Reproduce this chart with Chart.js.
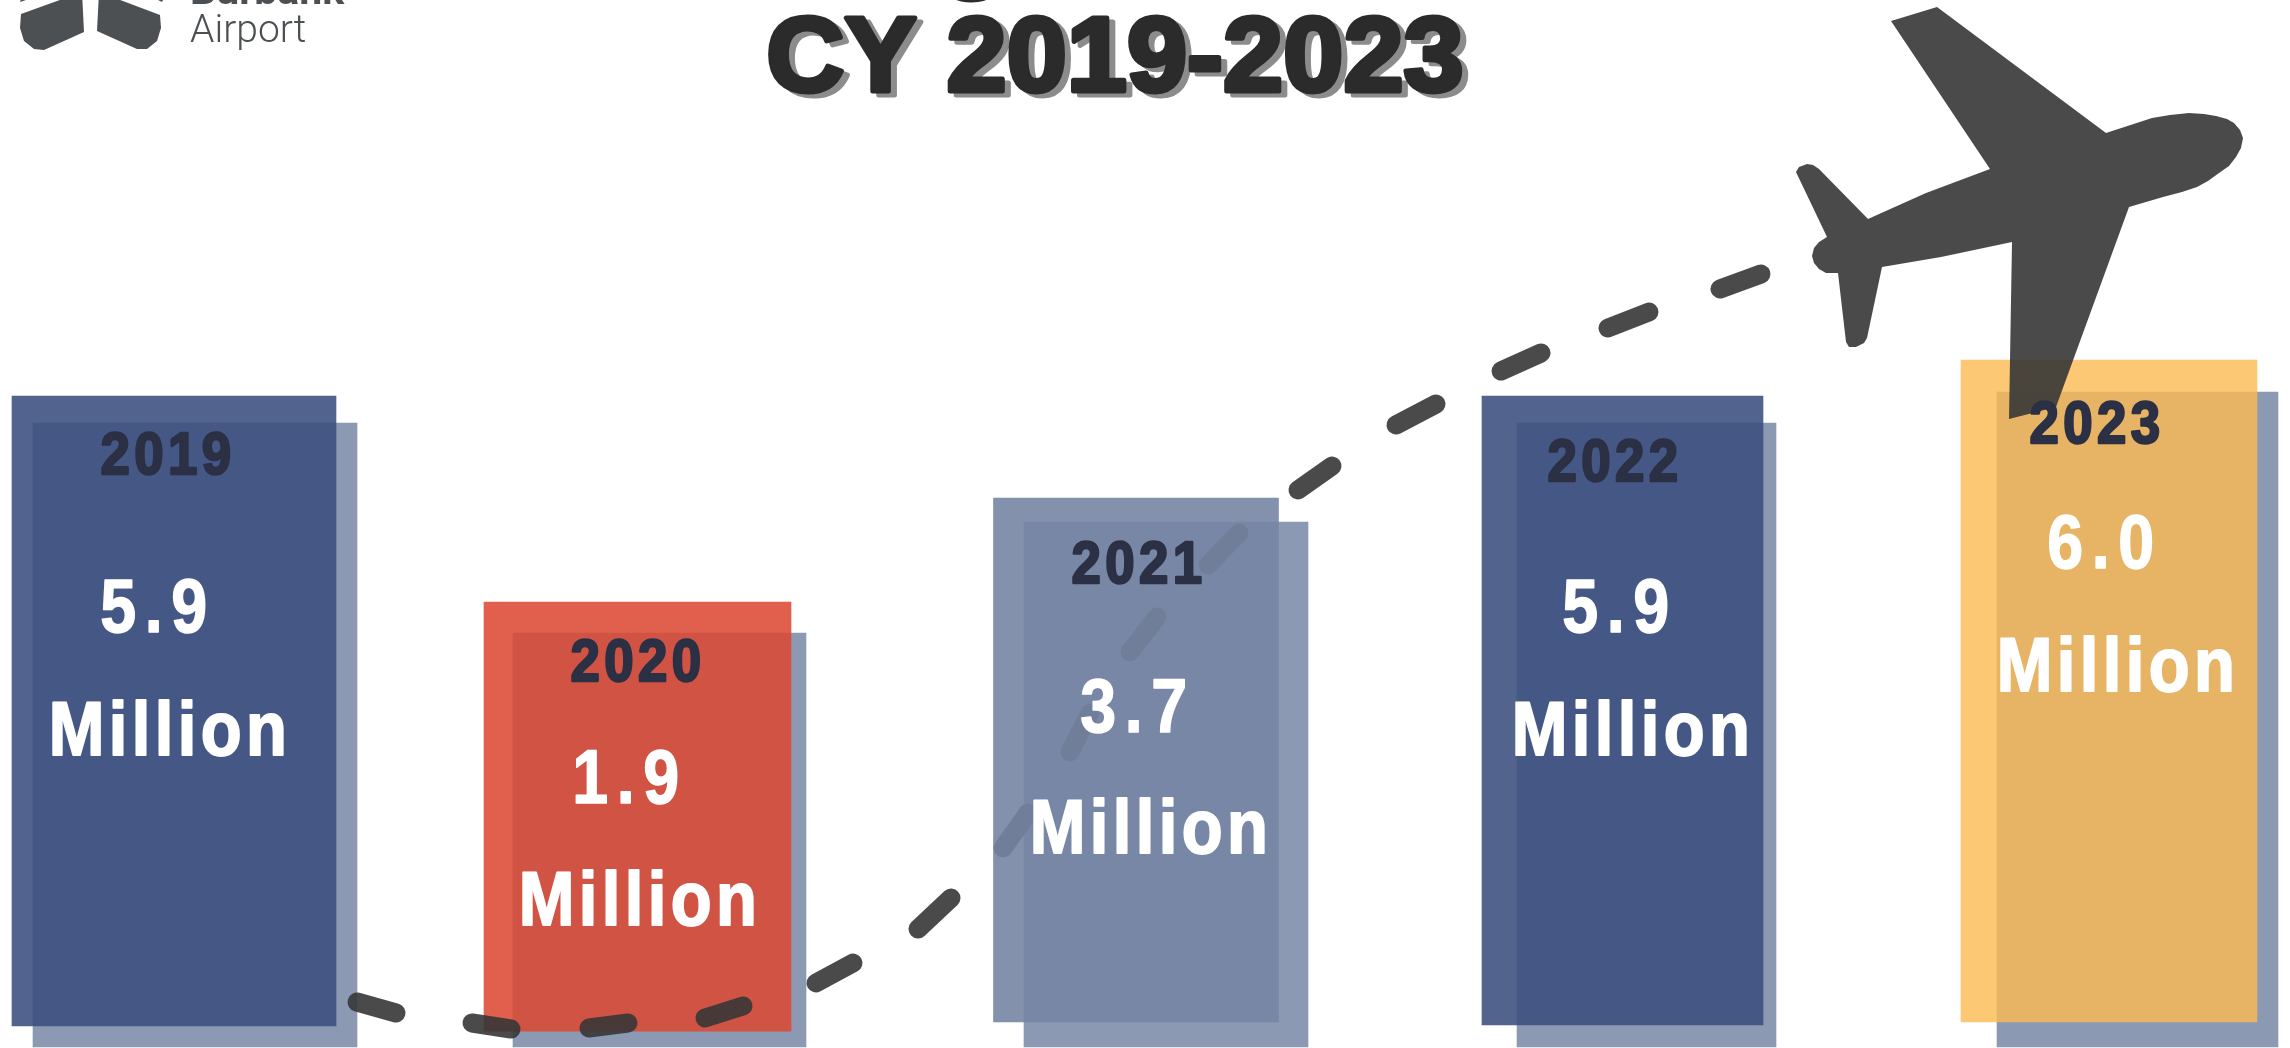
<!DOCTYPE html>
<html>
<head>
<meta charset="utf-8">
<title>Passenger Traffic CY 2019-2023</title>
<script src="https://cdn.jsdelivr.net/npm/chart.js@4/dist/chart.umd.js"></script>
<style>
  html, body { margin: 0; padding: 0; background: #fff; overflow: hidden; }
  canvas { display: block; }
</style>
</head>
<body>
<canvas id="chart" width="2290" height="1048"></canvas>
<script>
// Passengers per calendar year, in millions
const years = [2019, 2020, 2021, 2022, 2023];
const passengers = [5.9, 1.9, 3.7, 5.9, 6.0];
const valueLabels = ['5.9', '1.9', '3.7', '5.9', '6.0'];
const unitLabel = 'Million';

// Flight path, one pair of points per dash; null breaks the line
const pathX = [357, 396, 396, 472, 511, 511, 589, 628, 628, 705, 743, 743, 816, 853, 853, 918, 951, 951,
  1003, 1028, 1028, 1070, 1090, 1090, 1130, 1157, 1157, 1208, 1239, 1239, 1298, 1332, 1332,
  1396, 1436, 1436, 1501, 1541, 1541, 1608, 1649, 1649, 1720, 1761];
const pathY = [1002, 1013, null, 1023, 1029, null, 1028, 1023, null, 1018, 1006, null, 983, 963, null, 929, 898, null,
  848, 813, null, 752, 713, null, 652, 617, null, 565, 533, null, 490, 466, null,
  425, 404, null, 371, 353, null, 328, 312, null, 289, 274];

// Bar styling and layout
const frontColors = ['rgba(58,77,126,.88)', 'rgba(219,72,50,.87)', 'rgba(117,133,163,.9)', 'rgba(58,77,126,.88)', 'rgba(252,186,80,.8)'];
const frontOrder = [9, 9, 1, 9, 9];
const frontWidths = [324, 307, 285, 281, 296];
const backWidths = [324, 293, 284, 259, 281];
const frontFloors = [0.094, 0.072, 0.111, 0.098, 0.111];
const backColor = 'rgb(140,153,178)';

// The axes are not to scale: each one passes through these value/pixel anchors
const anchors = {
  xFront: { values: [2018, ...years, 2024], pixels: [0, 174, 637.5, 1136, 1622.5, 2109, 2290] },
  xBack:  { values: [2018, ...years, 2024], pixels: [0, 195, 659.5, 1166, 1646.5, 2137.5, 2290] },
  yFront: { values: [0, 1.9, 3.7, 5.9, 6.0, 7], pixels: [1048, 602, 498, 396, 360, 0] },
  yBack:  { values: [0, 1.9, 3.7, 5.9, 6.0, 7], pixels: [1047, 633, 522, 423, 392, 0] }
};

const yearText = [[168, 457], [638, 664], [1139, 566], [1615, 464], [2097, 426]];
const valueText = [[158, 611], [630, 782], [1138, 711], [1620, 611], [2105, 547]];
const unitText = [[170, 734], [640, 904], [1151, 832], [1633, 734], [2118, 670]];

const SANS = '"Liberation Sans", sans-serif';

// Linear scale bent through the anchor table of its axis
class AnchoredScale extends Chart.LinearScale {
  static id = 'anchored';
  static defaults = {};
  getPixelForValue(value) {
    const { values, pixels } = anchors[this.id];
    let i = 0;
    while (i < values.length - 2 && value > values[i + 1]) i++;
    const t = (value - values[i]) / (values[i + 1] - values[i]);
    return pixels[i] + t * (pixels[i + 1] - pixels[i]);
  }
  getValueForPixel(pixel) {
    const { values, pixels } = anchors[this.id];
    const rising = pixels[1] > pixels[0];
    let i = 0;
    while (i < values.length - 2 && (rising ? pixel > pixels[i + 1] : pixel < pixels[i + 1])) i++;
    const t = (pixel - pixels[i]) / (pixels[i + 1] - pixels[i]);
    return values[i] + t * (values[i + 1] - values[i]);
  }
}
Chart.register(AnchoredScale);

function outline(ctx, points) {
  ctx.beginPath();
  points.forEach(([x, y], i) => (i ? ctx.lineTo(x, y) : ctx.moveTo(x, y)));
  ctx.closePath();
}

function putText(ctx, text, x, y, font, color, opts = {}) {
  ctx.save();
  ctx.translate(x, y);
  ctx.scale(opts.stretch || 1, 1);
  ctx.font = font;
  ctx.letterSpacing = (opts.spacing || 0) + 'px';
  ctx.textAlign = opts.align || 'center';
  ctx.textBaseline = opts.baseline || 'middle';
  ctx.lineJoin = 'round';
  ctx.fillStyle = color;
  if (opts.stroke) {
    ctx.strokeStyle = color;
    ctx.lineWidth = opts.stroke;
    ctx.strokeText(text, 0, 0);
  }
  ctx.fillText(text, 0, 0);
  ctx.restore();
}

const airplane = [[1891, 21], [1937, 7], [2106, 133], [2152, 118], [2170, 115], [2189, 113], [2204, 114], [2216, 116],
  [2227, 119], [2234, 123], [2240, 130], [2243, 138], [2241, 148], [2236, 157], [2229, 166], [2219, 173], [2208, 181],
  [2197, 187], [2182, 192], [2163, 197], [2129, 207], [2056, 407], [2009, 419], [2012, 242], [1941, 257], [1882, 267],
  [1867, 338], [1864, 343], [1856, 347], [1849, 347], [1846, 342], [1838, 273], [1826, 273], [1819, 269], [1814, 263],
  [1812, 256], [1814, 248], [1819, 242], [1827, 237], [1796, 172], [1799, 167], [1807, 164], [1813, 165], [1819, 169],
  [1868, 219], [1926, 193], [1990, 169]];

const decorations = {
  id: 'decorations',
  afterDatasetsDraw(chart) {
    const { ctx } = chart;
    // Airplane at the end of the flight path
    outline(ctx, airplane);
    ctx.fillStyle = 'rgba(54,54,54,.9)';
    ctx.fill();

    // Airport mark, cut by the top of the page
    ctx.fillStyle = '#4d5053';
    outline(ctx, [[21, 14], [82, -8], [84, 32], [44, 50], [34, 49], [24, 41], [20, 28]]);
    ctx.fill();
    outline(ctx, [[99, -8], [160, 15], [161, 28], [157, 41], [147, 49], [137, 49], [97, 31]]);
    ctx.fill();
    outline(ctx, [[20, 2], [38, -4], [22, -4]]);
    ctx.fill();
    outline(ctx, [[150, -4], [162, 2], [165, -4]]);
    ctx.fill();
    putText(ctx, 'Burbank', 190, 4, '700 41px Roboto, sans-serif', '#4d5053', { align: 'left', baseline: 'alphabetic' });
    putText(ctx, 'Airport', 190, 42, '300 39px Roboto, sans-serif', '#4d5053', { align: 'left', baseline: 'alphabetic' });

    // Heading with its offset grey shadow
    const title = { stretch: 1.02, stroke: 5, baseline: 'alphabetic' };
    const titleFont = `700 106px ${SANS}`;
    putText(ctx, 'CY 2019-2023', 1121, 95, titleFont, '#8c8c8c', title);
    putText(ctx, 'CY 2019-2023', 1115, 91, titleFont, '#2b2b2b', title);
    putText(ctx, 'Passenger Traffic', 1012, -22, titleFont, '#2b2b2b', title);

    // Year, value and unit on each bar
    years.forEach((year, i) => {
      putText(ctx, String(year), ...yearText[i], `700 60px ${SANS}`, '#2b3045', { stretch: .88, spacing: 5, stroke: 2.5 });
      putText(ctx, valueLabels[i], ...valueText[i], `700 76px ${SANS}`, '#fff', { stretch: .85, spacing: 10, stroke: 1.5 });
      putText(ctx, unitLabel, ...unitText[i], `700 76px ${SANS}`, '#fff', { stretch: .88, spacing: 5, stroke: 2 });
    });
  }
};

const backBars = years.map((year, i) => ({
  type: 'bar', label: year + ' shadow', order: 20, grouped: false,
  xAxisID: 'xBack', yAxisID: 'yBack',
  data: [{ x: year, y: passengers[i] }],
  base: 0,
  barThickness: backWidths[i],
  backgroundColor: backColor,
  borderWidth: 0
}));

const frontBars = years.map((year, i) => ({
  type: 'bar', label: String(year), order: frontOrder[i], grouped: false,
  xAxisID: 'xFront', yAxisID: 'yFront',
  data: [{ x: year, y: passengers[i] }],
  base: frontFloors[i],
  barThickness: frontWidths[i],
  backgroundColor: frontColors[i],
  borderWidth: 0
}));

const flightPath = {
  type: 'line', label: 'Flight path', order: 5,
  xAxisID: 'xPath', yAxisID: 'yPath',
  data: pathX.map((x, i) => ({ x, y: pathY[i] })),
  borderColor: 'rgba(54,54,54,.9)',
  borderWidth: 19,
  borderCapStyle: 'round',
  pointRadius: 0,
  tension: 0,
  spanGaps: false
};

const hiddenAnchored = (axis, min, max) => ({ type: 'anchored', axis, min, max, display: false });

new Chart(document.getElementById('chart'), {
  type: 'bar',
  data: { datasets: [...backBars, ...frontBars, flightPath] },
  plugins: [decorations],
  options: {
    responsive: false,
    animation: false,
    layout: { padding: 0 },
    plugins: { legend: { display: false }, tooltip: { enabled: false } },
    scales: {
      xFront: hiddenAnchored('x', 2018, 2024),
      xBack: hiddenAnchored('x', 2018, 2024),
      yFront: hiddenAnchored('y', 0, 7),
      yBack: hiddenAnchored('y', 0, 7),
      xPath: { type: 'linear', axis: 'x', min: 0, max: 2290, offset: false, display: false },
      yPath: { type: 'linear', axis: 'y', min: 0, max: 1048, reverse: true, display: false }
    }
  }
});
</script>
</body>
</html>
